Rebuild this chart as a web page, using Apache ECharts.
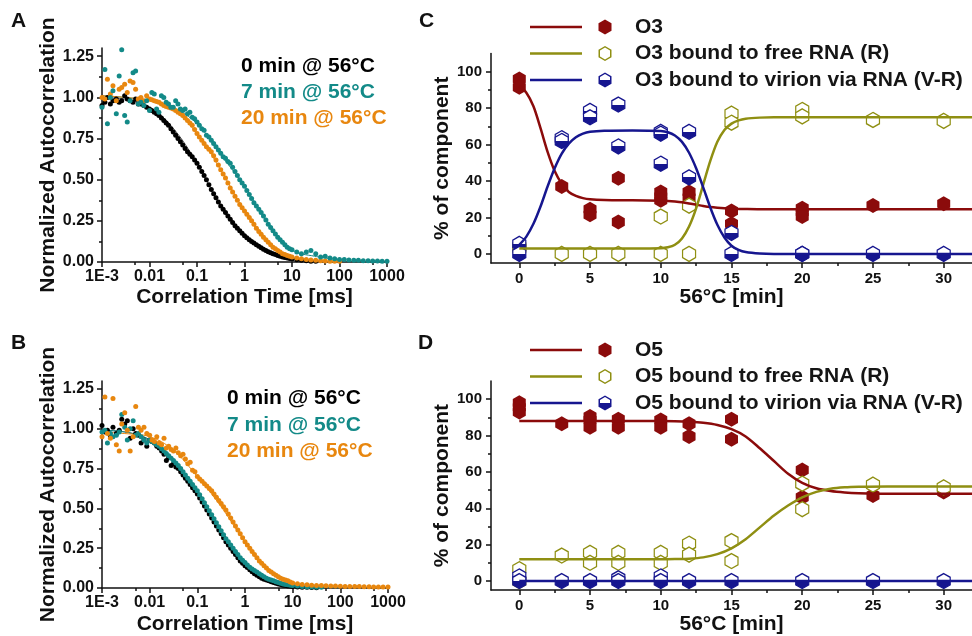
<!DOCTYPE html>
<html>
<head>
<meta charset="utf-8">
<script src="https://cdn.jsdelivr.net/npm/echarts@6/dist/echarts.min.js"></script>
<style>
  html, body { margin: 0; padding: 0; background: #fff; }
  #main { width: 972px; height: 636px; }
</style>
</head>
<body>
<div id="main"></div>
<script>
var FONT = '"Liberation Sans", Arial, sans-serif';
var INK = '#111';

// ---- A / B : FCS autocorrelation curves ----
// correlator lag times [ms]
var lagTimes = [0.001, 0.00115, 0.0013, 0.0015, 0.0017, 0.002, 0.0023, 0.0026, 0.003, 0.0034, 0.0039, 0.0045, 0.0051, 0.0058, 0.0066, 0.0076, 0.0087,
  0.01, 0.0112, 0.0126, 0.0141, 0.0158, 0.0178, 0.02, 0.0224, 0.0251, 0.0282, 0.0316, 0.0355, 0.0398, 0.0447, 0.0501, 0.0562, 0.0631, 0.0708, 0.0794, 0.0891,
  0.1, 0.112, 0.126, 0.141, 0.158, 0.178, 0.2, 0.224, 0.251, 0.282, 0.316, 0.355, 0.398, 0.447, 0.501, 0.562, 0.631, 0.708, 0.794, 0.891,
  1, 1.12, 1.26, 1.41, 1.58, 1.78, 2, 2.24, 2.51, 2.82, 3.16, 3.55, 3.98, 4.47, 5.01, 5.62, 6.31, 7.08, 7.94, 8.91,
  10, 12.6, 15.8, 20, 25, 31.6, 40, 50, 63, 79,
  100, 126, 158, 200, 250, 316, 400, 500, 630, 790,
  1000];

// panel A (O3)
var a0min = [0.95, 0.97, 1.00, 0.96, 0.98, 0.99, 0.97, 0.98, 1.01, 0.99, 0.98, 0.97, 0.99, 0.96, 0.96, 0.95, 0.94,
  0.93, 0.92, 0.91, 0.90, 0.89, 0.875, 0.86, 0.845, 0.83, 0.81, 0.79, 0.77, 0.75, 0.73, 0.71, 0.69, 0.67, 0.655, 0.64, 0.62,
  0.60, 0.575, 0.55, 0.525, 0.50, 0.47, 0.44, 0.415, 0.39, 0.365, 0.34, 0.32, 0.30, 0.28, 0.26, 0.24, 0.22, 0.205, 0.19, 0.175,
  0.16, 0.148, 0.135, 0.125, 0.115, 0.105, 0.095, 0.086, 0.078, 0.07, 0.063, 0.056, 0.05, 0.045, 0.04, 0.035, 0.03, 0.027, 0.024, 0.021,
  0.018, 0.013, 0.01, 0.007, 0.005, 0.004];
var a7min = [0.94, 1.17, 0.84, 1.00, 1.04, 0.90, 1.13, 1.29, 0.89, 0.85, 0.98, 1.15, 1.16, 0.96, 0.97, 0.95, 0.98,
  0.92, 1.03, 1.02, 0.93, 0.91, 1.01, 1.00, 0.97, 0.96, 0.94, 0.94, 0.98, 0.96, 0.93, 0.92, 0.93, 0.90, 0.91, 0.88, 0.87,
  0.85, 0.83, 0.81, 0.80, 0.77, 0.76, 0.74, 0.72, 0.70, 0.68, 0.66, 0.64, 0.63, 0.61, 0.60, 0.575, 0.55, 0.525, 0.50, 0.48,
  0.46, 0.435, 0.41, 0.385, 0.36, 0.34, 0.32, 0.30, 0.28, 0.255, 0.23, 0.21, 0.19, 0.17, 0.15, 0.135, 0.12, 0.105, 0.09, 0.08,
  0.075, 0.06, 0.05, 0.06, 0.07, 0.05, 0.03, 0.035, 0.025, 0.02,
  0.015, 0.015, 0.012, 0.01, 0.01, 0.008, 0.008, 0.006, 0.006, 0.005,
  0.005];
var a20min = [1.00, 0.99, 1.11, 1.02, 1.07, 0.98, 1.05, 1.06, 1.08, 1.03, 1.10, 1.09, 1.05, 0.99, 1.00, 0.98, 1.01,
  0.99, 0.985, 0.98, 0.975, 0.97, 0.96, 0.95, 0.945, 0.94, 0.935, 0.93, 0.92, 0.91, 0.90, 0.89, 0.875, 0.86, 0.845, 0.83, 0.805,
  0.78, 0.76, 0.74, 0.72, 0.70, 0.685, 0.67, 0.645, 0.62, 0.59, 0.56, 0.535, 0.51, 0.48, 0.45, 0.425, 0.40, 0.375, 0.35, 0.33,
  0.31, 0.29, 0.27, 0.25, 0.23, 0.205, 0.185, 0.168, 0.15, 0.135, 0.12, 0.105, 0.09, 0.08, 0.07, 0.06, 0.05, 0.045, 0.04, 0.035,
  0.03, 0.025, 0.02, 0.015, 0.012, 0.01, 0.008, 0.006, 0.005, 0.005,
  0.004];

// panel B (O5)
var b0min = [1.02, 0.98, 0.99, 0.95, 1.01, 0.97, 0.99, 1.06, 1.03, 1.05, 0.94, 1.00, 0.97, 0.96, 0.91, 0.93, 0.89,
  0.93, 0.92, 0.91, 0.89, 0.88, 0.86, 0.84, 0.80, 0.82, 0.77, 0.78, 0.76, 0.75, 0.73, 0.71, 0.69, 0.67, 0.65, 0.63, 0.61,
  0.59, 0.565, 0.54, 0.515, 0.49, 0.465, 0.44, 0.415, 0.39, 0.365, 0.34, 0.315, 0.29, 0.27, 0.25, 0.23, 0.21, 0.19, 0.17, 0.155,
  0.14, 0.128, 0.115, 0.102, 0.09, 0.08, 0.07, 0.062, 0.055, 0.05, 0.045, 0.04, 0.035, 0.03, 0.025, 0.022, 0.018, 0.015, 0.013, 0.011,
  0.009, 0.007, 0.005, 0.004, 0.003, 0.002];
var b7min = [0.98, 0.99, 0.91, 0.97, 0.95, 0.96, 0.98, 1.09, 1.01, 0.93, 1.00, 1.05, 0.96, 0.97, 0.95, 0.93, 0.91,
  0.93, 0.92, 0.91, 0.90, 0.89, 0.875, 0.86, 0.845, 0.83, 0.815, 0.80, 0.785, 0.77, 0.75, 0.73, 0.71, 0.69, 0.67, 0.65, 0.63,
  0.61, 0.585, 0.56, 0.535, 0.51, 0.485, 0.46, 0.435, 0.41, 0.385, 0.36, 0.335, 0.31, 0.29, 0.27, 0.25, 0.23, 0.21, 0.19, 0.175,
  0.16, 0.145, 0.13, 0.12, 0.11, 0.10, 0.09, 0.08, 0.07, 0.062, 0.055, 0.05, 0.045, 0.04, 0.035, 0.03, 0.025, 0.022, 0.02, 0.017,
  0.015, 0.012, 0.009, 0.007, 0.006, 0.005, 0.004];
var b20min = [0.95, 1.20, 0.97, 0.94, 1.19, 0.90, 0.86, 1.03, 1.10, 0.99, 0.86, 0.95, 1.14, 1.01, 0.99, 1.01, 0.97,
  0.96, 0.93, 0.92, 0.95, 0.91, 0.90, 0.94, 0.88, 0.89, 0.87, 0.86, 0.88, 0.85, 0.83, 0.84, 0.81, 0.78, 0.79, 0.74, 0.73,
  0.70, 0.685, 0.67, 0.655, 0.64, 0.625, 0.61, 0.59, 0.57, 0.55, 0.53, 0.51, 0.49, 0.465, 0.44, 0.415, 0.39, 0.365, 0.34, 0.315,
  0.29, 0.27, 0.25, 0.23, 0.21, 0.19, 0.17, 0.155, 0.14, 0.125, 0.11, 0.10, 0.09, 0.08, 0.07, 0.062, 0.055, 0.05, 0.045, 0.038,
  0.032, 0.027, 0.022, 0.02, 0.018, 0.016, 0.015, 0.014, 0.013, 0.012,
  0.011, 0.01, 0.01, 0.009, 0.009, 0.008, 0.008, 0.007, 0.007, 0.006,
  0.006];

// thin model fits under the dots
var fitLag = [0.001, 0.003, 0.01, 0.03, 0.1, 0.3, 1, 3, 10, 30, 100];
var aFit0 = [1.0, 0.99, 0.94, 0.82, 0.60, 0.35, 0.16, 0.065, 0.02, 0.005, 0.001];
var aFit7 = [1.01, 1.0, 0.98, 0.94, 0.84, 0.66, 0.46, 0.24, 0.075, 0.035, 0.015];
var aFit20 = [1.01, 1.0, 0.98, 0.93, 0.78, 0.57, 0.31, 0.125, 0.03, 0.008, 0.003];
var bFit0 = [0.99, 0.98, 0.93, 0.80, 0.59, 0.35, 0.14, 0.045, 0.009, 0.002, 0.001];
var bFit7 = [0.99, 0.98, 0.93, 0.81, 0.61, 0.37, 0.16, 0.055, 0.015, 0.005, 0.002];
var bFit20 = [0.98, 0.97, 0.95, 0.87, 0.70, 0.52, 0.29, 0.11, 0.032, 0.015, 0.01];

var curveNames = ['0 min @ 56°C', '7 min @ 56°C', '20 min @ 56°C'];
var logTickLabels = ['1E-3', '0.01', '0.1', '1', '10', '100', '1000'];
var logMinorValues = [0.005, 0.05, 0.5, 5, 50, 500];
var corrTickValues = [0, 0.25, 0.5, 0.75, 1.0, 1.25];

// ---- C / D : component fractions vs heating time ----
var minTickValues = [0, 5, 10, 15, 20, 25, 30];
var pctTickValues = [0, 20, 40, 60, 80, 100];

// panel C
var cFreeT = [0, 0, 3, 5, 5, 7, 7, 10, 10, 10, 12, 12, 15, 15, 20, 20, 20, 25, 30];
var cFreeV = [96, 91.5, 37, 24.5, 21.5, 41.5, 17.5, 34, 31.5, 29.5, 34, 31, 23.5, 16.5, 25, 23, 20.5, 26.5, 27.5];
var cRnaT = [0, 0, 3, 5, 7, 10, 10, 12, 12, 15, 15, 20, 20, 25, 30];
var cRnaV = [4, 3, 0, 0, 0, 20.5, 0, 26.5, 0, 77, 72, 79, 75.5, 73.5, 73];
var cVirT = [0, 0, 3, 3, 5, 5, 7, 7, 10, 10, 10, 12, 12, 15, 15, 20, 20, 25, 30];
var cVirV = [5.5, 0, 63.5, 62, 78.5, 75, 82, 59, 67, 66, 49.5, 67, 42, 11.5, 0, 0, 0, 0, 0];
var cFitT = [0, 0.5, 1, 1.5, 2, 2.5, 3, 3.5, 4, 4.5, 5, 6, 8, 10, 10.5, 11, 11.5, 12, 12.5, 13, 13.5, 14, 14.5, 15, 15.5, 16, 17, 18, 20, 25, 32];
var cFreeFit = [92, 88.5, 81, 69, 56, 45.5, 38.5, 34, 31.8, 30.6, 30, 29.6, 29.4, 29.2, 29, 28.7, 28.3, 27.7, 27, 26.3, 25.7, 25.3, 25, 24.8, 24.7, 24.6, 24.5, 24.5, 24.5, 24.5, 24.5];
var cRnaFit = [3, 3, 3, 3, 3, 3, 3, 3, 3, 3, 3, 3, 3, 3.1, 3.6, 5, 8.5, 15, 25, 38, 51, 61.5, 68, 71.5, 73.3, 74.2, 74.8, 75, 75, 75, 75];
var cVirFit = [5, 9.5, 16.5, 26, 37, 47, 55, 60.5, 64, 66, 67, 67.6, 67.8, 67.5, 66.8, 65, 61.5, 55.5, 47, 36.5, 25.5, 16, 9, 4.5, 2.2, 1, 0.2, 0, 0, 0, 0];

// panel D
var dFreeT = [0, 0, 0, 3, 5, 5, 5, 7, 7, 10, 10, 12, 12, 15, 15, 20, 20, 25, 30];
var dFreeV = [98, 95.5, 93, 86.5, 90.5, 88.5, 84.5, 89, 84.5, 88.5, 84.5, 86.5, 79.5, 89, 78, 61, 46, 47, 49];
var dRnaT = [0, 0, 3, 5, 5, 7, 7, 10, 10, 12, 12, 15, 15, 20, 20, 25, 30];
var dRnaV = [6.5, 0, 14, 15.5, 10, 15.5, 10, 15.5, 10, 20.5, 14.5, 22, 11, 53.5, 39.5, 53, 51.5];
var dVirT = [0, 0, 3, 5, 7, 7, 10, 10, 12, 15, 20, 25, 30];
var dVirV = [2.5, 0, 0, 0, 1.5, 0, 2.5, 0, 0, 0, 0, 0, 0];
var dFitT = [0, 5, 10, 11, 12, 13, 14, 15, 16, 17, 18, 19, 20, 21, 22, 23, 24, 26, 29, 32];
var dFreeFit = [88, 88, 88, 87.9, 87.6, 87, 85.8, 83.5, 79.5, 73, 66, 59, 54, 51, 49.5, 48.7, 48.3, 48, 48, 48];
var dRnaFit = [12, 12, 12, 12.1, 12.3, 13, 14.8, 18, 23, 29.5, 36, 41.5, 46, 49, 50.7, 51.5, 51.8, 52, 52, 52];
var dVirFit = [0, 0, 0, 0, 0, 0, 0, 0, 0, 0, 0, 0, 0, 0, 0, 0, 0, 0, 0, 0];

var legendC = ['O3', 'O3 bound to free RNA (R)', 'O3 bound to virion via RNA (V-R)'];
var legendD = ['O5', 'O5 bound to free RNA (R)', 'O5 bound to virion via RNA (V-R)'];

// colours
var BLACK = '#000', TEAL = '#138a88', ORANGE = '#e8870f';
var RED = '#8b0b0b', OLIVE = '#8f8f12', BLUE = '#16168f';

function zip(xs, ys) {
  return ys.map(function (y, i) { return [xs[i], y]; });
}

// hexagon marker (pointy top)
var HEX = 'path://M0,-7.5 L6.5,-3.75 L6.5,3.75 L0,7.5 L-6.5,3.75 L-6.5,-3.75 Z';
var halfFill = {
  type: 'linear', x: 0, y: 0, x2: 0, y2: 1,
  colorStops: [
    { offset: 0, color: '#fff' }, { offset: 0.5, color: '#fff' },
    { offset: 0.5, color: BLUE }, { offset: 1, color: BLUE }
  ]
};
// legend icons: line segment + marker, drawn as one filled path
var ICON_LINE = 'M0,-1.25 L52,-1.25 L52,1.25 L0,1.25 Z ';
var ICON_HEX = 'M75,-7.5 L81.5,-3.75 L81.5,3.75 L75,7.5 L68.5,3.75 L68.5,-3.75 Z ';
var ICON_HOLE = 'M75,-5.9 L70,-2.95 L70,2.95 L75,5.9 L80,2.95 L80,-2.95 Z ';
var ICON_HALF = 'M80,0 L80,2.95 L75,5.9 L70,2.95 L70,0 Z ';
var ICON_PAD = 'M100,0';
var iconFilled = 'path://' + ICON_LINE + ICON_HEX + ICON_PAD;
var iconOpen = 'path://' + ICON_LINE + ICON_HEX + ICON_HOLE + ICON_PAD;
var iconHalf = 'path://' + ICON_LINE + ICON_HEX + ICON_HOLE + ICON_HALF + ICON_PAD;

var labelStyle = { color: INK, fontFamily: FONT, fontWeight: 'bold' };
var nameStyle = { color: INK, fontFamily: FONT, fontWeight: 'bold', fontSize: 21 };
var lineStyle = { color: INK, width: 1.5 };

function logAxis(grid, gap) {
  return {
    type: 'log', gridIndex: grid, position: 'bottom', min: 0.001, max: 1000, logBase: 10, splitNumber: 6,
    name: 'Correlation Time [ms]', nameLocation: 'middle', nameGap: gap, nameTextStyle: nameStyle,
    axisLine: { lineStyle: lineStyle },
    axisTick: { length: 5, lineStyle: lineStyle },
    minorTick: { show: false },
    splitLine: { show: false },
    axisLabel: Object.assign({ fontSize: 16, margin: 7, formatter: function (v) {
      return logTickLabels[Math.round(Math.log10(v)) + 3];
    } }, labelStyle)
  };
}
// short ticks at 5 x 10^n (no series on this axis)
function logMinorAxis(grid) {
  return {
    type: 'log', gridIndex: grid, position: 'bottom', min: 0.001, max: 1000, logBase: 10,
    axisLine: { show: false },
    axisTick: { length: 3, lineStyle: lineStyle, customValues: logMinorValues },
    axisLabel: { show: false },
    splitLine: { show: false }
  };
}
function corrAxis(grid) {
  return {
    type: 'value', gridIndex: grid, min: 0, max: 1.3, interval: 0.25,
    name: 'Normalized Autocorrelation', nameLocation: 'middle', nameGap: 42, nameTextStyle: nameStyle,
    axisLine: { lineStyle: lineStyle },
    axisTick: { length: 5, lineStyle: lineStyle, customValues: corrTickValues },
    minorTick: { show: true, splitNumber: 2, length: 3, lineStyle: lineStyle },
    splitLine: { show: false },
    axisLabel: Object.assign({ fontSize: 16, margin: 8, customValues: corrTickValues,
      formatter: function (v) { return v.toFixed(2); } }, labelStyle)
  };
}
function minAxis(grid) {
  return {
    type: 'value', gridIndex: grid, position: 'bottom', min: -2, max: 32,
    name: '56°C [min]', nameLocation: 'middle', nameGap: 19, nameTextStyle: nameStyle,
    axisLine: { onZero: false, lineStyle: lineStyle },
    axisTick: { length: 5, lineStyle: lineStyle, customValues: minTickValues },
    minorTick: { show: true, splitNumber: 2, length: 3, lineStyle: lineStyle },
    splitLine: { show: false },
    axisLabel: Object.assign({ fontSize: 15, margin: 8, customValues: minTickValues }, labelStyle)
  };
}
function pctAxis(grid) {
  return {
    type: 'value', gridIndex: grid, min: -5, max: 110,
    name: '% of component', nameLocation: 'middle', nameGap: 36, nameTextStyle: nameStyle,
    axisLine: { onZero: false, lineStyle: lineStyle },
    axisTick: { length: 5, lineStyle: lineStyle, customValues: pctTickValues },
    minorTick: { show: true, splitNumber: 2, length: 3, lineStyle: lineStyle },
    splitLine: { show: false },
    axisLabel: Object.assign({ fontSize: 15, margin: 9, customValues: pctTickValues }, labelStyle)
  };
}

function dots(name, idx, vals, color) {
  return {
    name: name, type: 'scatter', xAxisIndex: idx, yAxisIndex: idx,
    symbol: 'circle', symbolSize: 5, itemStyle: { color: color, opacity: 1 },
    data: zip(lagTimes, vals)
  };
}
function thinFit(idx, ys, color) {
  return {
    name: 'model', type: 'line', xAxisIndex: idx, yAxisIndex: idx, symbol: 'none',
    smooth: 0.4, lineStyle: { color: color, width: 1 }, z: 1,
    data: zip(fitLag, ys)
  };
}
function fit(idx, xs, ys, color) {
  return {
    name: 'fit', type: 'line', xAxisIndex: idx, yAxisIndex: idx, symbol: 'none',
    smooth: 0.3, lineStyle: { color: color, width: 2.5 },
    data: zip(xs, ys)
  };
}
function hexes(name, idx, xs, ys, kind) {
  var st;
  if (kind === 'filled') st = { color: RED, opacity: 1 };
  else if (kind === 'open') st = { color: '#fff', borderColor: OLIVE, borderWidth: 1.3, opacity: 1 };
  else st = { color: halfFill, borderColor: BLUE, borderWidth: 1.3, opacity: 1 };
  return {
    name: name, type: 'scatter', xAxisIndex: idx, yAxisIndex: idx,
    symbol: HEX, symbolSize: [13, 15], itemStyle: st, data: zip(xs, ys)
  };
}
function textLegend(left, top, gap) {
  var cols = [BLACK, TEAL, ORANGE];
  return {
    left: left, top: top, orient: 'vertical', itemGap: gap, itemWidth: 0, itemHeight: 0,
    selectedMode: false, padding: 0,
    textStyle: { fontFamily: FONT, fontWeight: 'bold', fontSize: 21 },
    data: curveNames.map(function (n, i) { return { name: n, textStyle: { color: cols[i] } }; })
  };
}
function hexLegend(top, names) {
  return {
    left: 530, top: top, orient: 'vertical', itemGap: 5.5, itemWidth: 100, itemHeight: 15,
    selectedMode: false, padding: 0,
    textStyle: { fontFamily: FONT, fontWeight: 'bold', fontSize: 21, color: '#151515' },
    data: [
      { name: names[0], icon: iconFilled, itemStyle: { color: RED, borderWidth: 0, opacity: 1 } },
      { name: names[1], icon: iconOpen, itemStyle: { color: OLIVE, borderWidth: 0, opacity: 1 } },
      { name: names[2], icon: iconHalf, itemStyle: { color: BLUE, borderWidth: 0, opacity: 1 } }
    ]
  };
}
function letter(t, left, top) {
  return { text: t, left: left, top: top, padding: 0,
    textStyle: { fontFamily: FONT, fontWeight: 'bold', fontSize: 21, color: INK } };
}

var option = {
  backgroundColor: '#fff',
  animation: false,
  title: [letter('A', 11, 11), letter('B', 11, 333), letter('C', 419, 11), letter('D', 418, 333)],
  grid: [
    { left: 102, top: 48, width: 285, height: 214 },
    { left: 102, top: 381, width: 286, height: 211 },
    { left: 491, top: 53.5, width: 497, height: 209.5 },
    { left: 491, top: 381, width: 497, height: 210 }
  ],
  xAxis: [logAxis(0, 25), logAxis(1, 26), minAxis(2), minAxis(3), logMinorAxis(0), logMinorAxis(1)],
  yAxis: [corrAxis(0), corrAxis(1), pctAxis(2), pctAxis(3)],
  legend: [
    textLegend(236, 56, 5),
    textLegend(222, 388, 5.3),
    hexLegend(16.5, legendC),
    hexLegend(339.5, legendD)
  ],
  series: [
    thinFit(0, aFit0, '#555'),
    thinFit(0, aFit7, TEAL),
    thinFit(0, aFit20, ORANGE),
    thinFit(1, bFit0, '#555'),
    thinFit(1, bFit7, TEAL),
    thinFit(1, bFit20, ORANGE),
    dots(curveNames[0], 0, a0min, BLACK),
    dots(curveNames[2], 0, a20min, ORANGE),
    dots(curveNames[1], 0, a7min, TEAL),
    dots(curveNames[0], 1, b0min, BLACK),
    dots(curveNames[1], 1, b7min, TEAL),
    dots(curveNames[2], 1, b20min, ORANGE),

    fit(2, cFitT, cFreeFit, RED),
    fit(2, cFitT, cRnaFit, OLIVE),
    fit(2, cFitT, cVirFit, BLUE),
    hexes(legendC[0], 2, cFreeT, cFreeV, 'filled'),
    hexes(legendC[1], 2, cRnaT, cRnaV, 'open'),
    hexes(legendC[2], 2, cVirT, cVirV, 'half'),

    fit(3, dFitT, dFreeFit, RED),
    fit(3, dFitT, dRnaFit, OLIVE),
    fit(3, dFitT, dVirFit, BLUE),
    hexes(legendD[0], 3, dFreeT, dFreeV, 'filled'),
    hexes(legendD[1], 3, dRnaT, dRnaV, 'open'),
    hexes(legendD[2], 3, dVirT, dVirV, 'half')
  ]
};

var chart = echarts.init(document.getElementById('main'));
chart.setOption(option);
</script>
</body>
</html>
